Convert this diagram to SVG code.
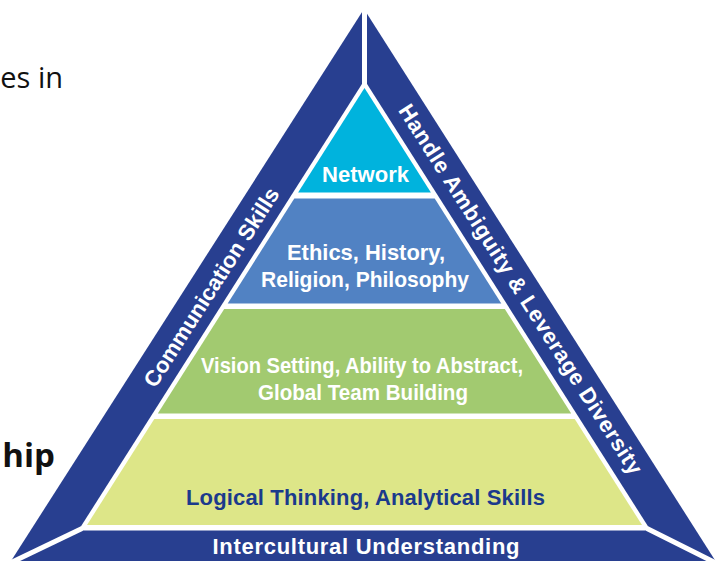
<svg xmlns="http://www.w3.org/2000/svg" width="722" height="561" viewBox="0 0 722 561">
<style>
.lbl{font-family:"Liberation Sans",Arial,sans-serif;font-weight:bold;font-size:22px;text-anchor:middle;fill:#ffffff}
.side{font-family:"Open Sans","Noto Sans",sans-serif;fill:#111111;text-anchor:end}
.dark{fill:#283f90}
.sep{stroke:#ffffff;stroke-width:5;fill:none}
</style>
<rect width="722" height="561" fill="#ffffff"/>
<g id="side-text">
<text class="side" x="63" y="88" font-size="29">es in</text>
<text class="side" x="55" y="467" font-size="33" font-weight="bold">hip</text>
</g>
<g id="frame">
<polygon class="dark" points="364,9 11,561 715.5,561"/>
<polygon fill="#ffffff" points="364.5,80 78,531 651,531"/>
<polygon class="dark" points="82,530.5 647,530.5 722,566 4,566"/>
<line class="sep" x1="364.5" y1="0" x2="364.5" y2="84"/>
<line class="sep" x1="82" y1="528.5" x2="6" y2="565"/>
<line class="sep" x1="647" y1="528.5" x2="720" y2="565"/>
</g>
<g id="communication-skills">
<text class="lbl" transform="translate(211,287) rotate(-57.4)" x="0" y="8" textLength="232" lengthAdjust="spacingAndGlyphs">Communication Skills</text>
</g>
<g id="handle-ambiguity">
<text class="lbl" transform="translate(521,289) rotate(57.5)" x="0" y="8" textLength="434" lengthAdjust="spacing">Handle Ambiguity &amp; Leverage Diversity</text>
</g>
<g id="intercultural-understanding">
<text class="lbl" x="366" y="554" textLength="307" lengthAdjust="spacing">Intercultural Understanding</text>
</g>
<g id="network">
<polygon fill="#00b3dd" points="364.5,88 430.9,192.5 298.1,192.5"/>
<text class="lbl" x="365.5" y="182" textLength="87" lengthAdjust="spacingAndGlyphs">Network</text>
</g>
<g id="ethics">
<polygon fill="#5182c3" points="294.3,198.5 434.7,198.5 501.3,303.5 227.7,303.5"/>
<text class="lbl" x="366" y="260" textLength="158" lengthAdjust="spacingAndGlyphs">Ethics, History,</text>
<text class="lbl" x="365" y="287" textLength="208" lengthAdjust="spacingAndGlyphs">Religion, Philosophy</text>
</g>
<g id="vision">
<polygon fill="#a2ca70" points="224.2,309 504.8,309 571.2,413.5 157.8,413.5"/>
<text class="lbl" x="362" y="373" textLength="322" lengthAdjust="spacingAndGlyphs">Vision Setting, Ability to Abstract,</text>
<text class="lbl" x="363" y="400" textLength="210" lengthAdjust="spacingAndGlyphs">Global Team Building</text>
</g>
<g id="logical">
<polygon fill="#dde688" points="154.3,419 574.7,419 642,525 87,525"/>
<text class="lbl" x="365.5" y="505" textLength="359" lengthAdjust="spacing" style="fill:#1b3a8c">Logical Thinking, Analytical Skills</text>
</g>
</svg>
